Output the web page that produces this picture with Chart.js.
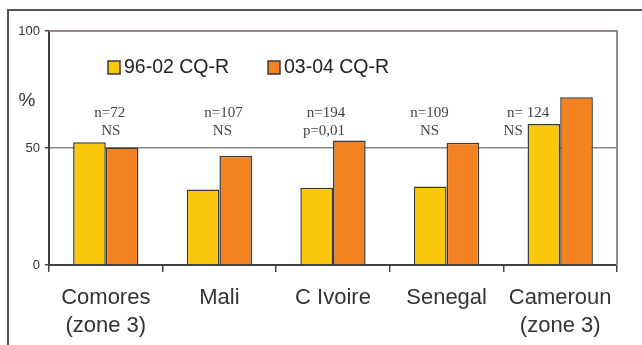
<!DOCTYPE html>
<html>
<head>
<meta charset="utf-8">
<script src="https://cdn.jsdelivr.net/npm/chart.js@4/dist/chart.umd.min.js"></script>
<style>
  html, body { margin: 0; padding: 0; background: #fff; }
  #wrap { width: 642px; height: 345px; position: relative; }
</style>
</head>
<body>
<div id="wrap"><canvas id="c" width="642" height="345"></canvas></div>
<script>
// Countries (two-line labels)
const categories = [
  ['Comores', '(zone 3)'],
  ['Mali'],
  ['C Ivoire'],
  ['Senegal'],
  ['Cameroun', '(zone 3)']
];
// Percent of CQ-resistant cases per period
const series9602 = [52.5, 32.3, 33.0, 33.5, 60.3];
const series0304 = [50.2, 46.7, 53.2, 52.2, 71.7];
const seriesNames = ['96-02 CQ-R', '03-04 CQ-R'];
// Sample size and significance above each group
const sampleLabels = ['n=72', 'n=107', 'n=194', 'n=109', 'n= 124'];
const testLabels = ['NS', 'NS', 'p=0,01', 'NS', 'NS'];
const yTicks = [0, 50, 100];

const YELLOW = '#FCC80B';
const ORANGE = '#F58220';
const EDGE = '#3a3a3a';
const SANS = "'Liberation Sans', Arial, sans-serif";
const SERIF = "'Liberation Serif', 'Times New Roman', serif";

// Frame, plot border, "%" unit, legend and the group annotations
const decorations = {
  id: 'decorations',
  beforeDraw(chart) {
    const ctx = chart.ctx;
    ctx.save();
    ctx.fillStyle = '#fff';
    ctx.fillRect(0, 0, chart.width, chart.height);
    ctx.strokeStyle = '#555';
    ctx.lineWidth = 2;
    ctx.beginPath();
    ctx.moveTo(8, chart.height);
    ctx.lineTo(8, 10);
    ctx.lineTo(chart.width, 10);
    ctx.stroke();
    ctx.restore();
  },
  afterDatasetsDraw(chart) {
    const ctx = chart.ctx;
    const a = chart.chartArea;
    const x = chart.scales.x;
    ctx.save();
    // plot border (top and right)
    ctx.strokeStyle = '#948a88';
    ctx.lineWidth = 2;
    ctx.beginPath();
    ctx.moveTo(a.left, a.top);
    ctx.lineTo(a.right, a.top);
    ctx.lineTo(a.right, a.bottom);
    ctx.stroke();

    // unit
    ctx.fillStyle = '#333';
    ctx.font = '19px ' + SANS;
    ctx.textAlign = 'center';
    ctx.textBaseline = 'middle';
    ctx.fillText('%', 27, 101);

    // legend
    const colors = chart.data.datasets.map(d => d.backgroundColor);
    const legendX = [108, 268];
    ctx.font = '19.5px ' + SANS;
    ctx.textAlign = 'left';
    chart.data.datasets.forEach((d, i) => {
      ctx.fillStyle = colors[i];
      ctx.fillRect(legendX[i], 61, 12, 13);
      ctx.strokeStyle = EDGE;
      ctx.lineWidth = 1.5;
      ctx.strokeRect(legendX[i], 61, 12, 13);
      ctx.fillStyle = '#222';
      ctx.fillText(d.label, legendX[i] + 16, 68);
    });

    // annotations above each group
    const dx = [4, 4, -7, -17, -32];
    const dx2 = [5, 3, -9, -17, -47];
    ctx.fillStyle = '#444';
    ctx.font = '15px ' + SERIF;
    ctx.textAlign = 'center';
    sampleLabels.forEach((t, i) => {
      const cx = x.getPixelForValue(i);
      ctx.fillText(t, cx + dx[i], 113);
      ctx.fillText(testLabels[i], cx + dx2[i], 131);
    });
    ctx.restore();
  }
};

new Chart(document.getElementById('c'), {
  type: 'bar',
  data: {
    labels: categories,
    datasets: [
      { label: seriesNames[0], data: series9602, backgroundColor: YELLOW, borderColor: EDGE, borderWidth: 1.5, borderSkipped: 'bottom' },
      { label: seriesNames[1], data: series0304, backgroundColor: ORANGE, borderColor: EDGE, borderWidth: 1.5, borderSkipped: 'bottom' }
    ]
  },
  options: {
    responsive: false,
    animation: false,
    events: [],
    layout: { padding: { left: 8, top: 31, right: 25, bottom: 0 } },
    datasets: { bar: { categoryPercentage: 0.575, barPercentage: 1 } },
    plugins: { legend: { display: false }, tooltip: { enabled: false } },
    scales: {
      x: {
        afterFit(s) { s.height = 80; },
        grid: { offset: true, drawOnChartArea: false, tickLength: 7, color: '#444', lineWidth: 1.5 },
        border: { color: '#404040', width: 2 },
        ticks: { color: '#333', font: { family: SANS, size: 22, lineHeight: 1.28 }, padding: 12, maxRotation: 0, autoSkip: false }
      },
      y: {
        min: 0, max: 100,
        afterFit(s) { s.width = 41; },
        afterBuildTicks(s) { s.ticks = yTicks.map(v => ({ value: v })); },
        grid: {
          drawTicks: true,
          tickLength: 4,
          color: c => (c.tick && c.tick.value === 50 ? '#8a8a8a' : 'rgba(0,0,0,0)'),
          tickColor: '#444',
          lineWidth: 1.5
        },
        border: { color: '#404040', width: 2 },
        ticks: { color: '#333', font: { family: SANS, size: 13 }, padding: 5 }
      }
    }
  },
  plugins: [decorations]
});
</script>
</body>
</html>
